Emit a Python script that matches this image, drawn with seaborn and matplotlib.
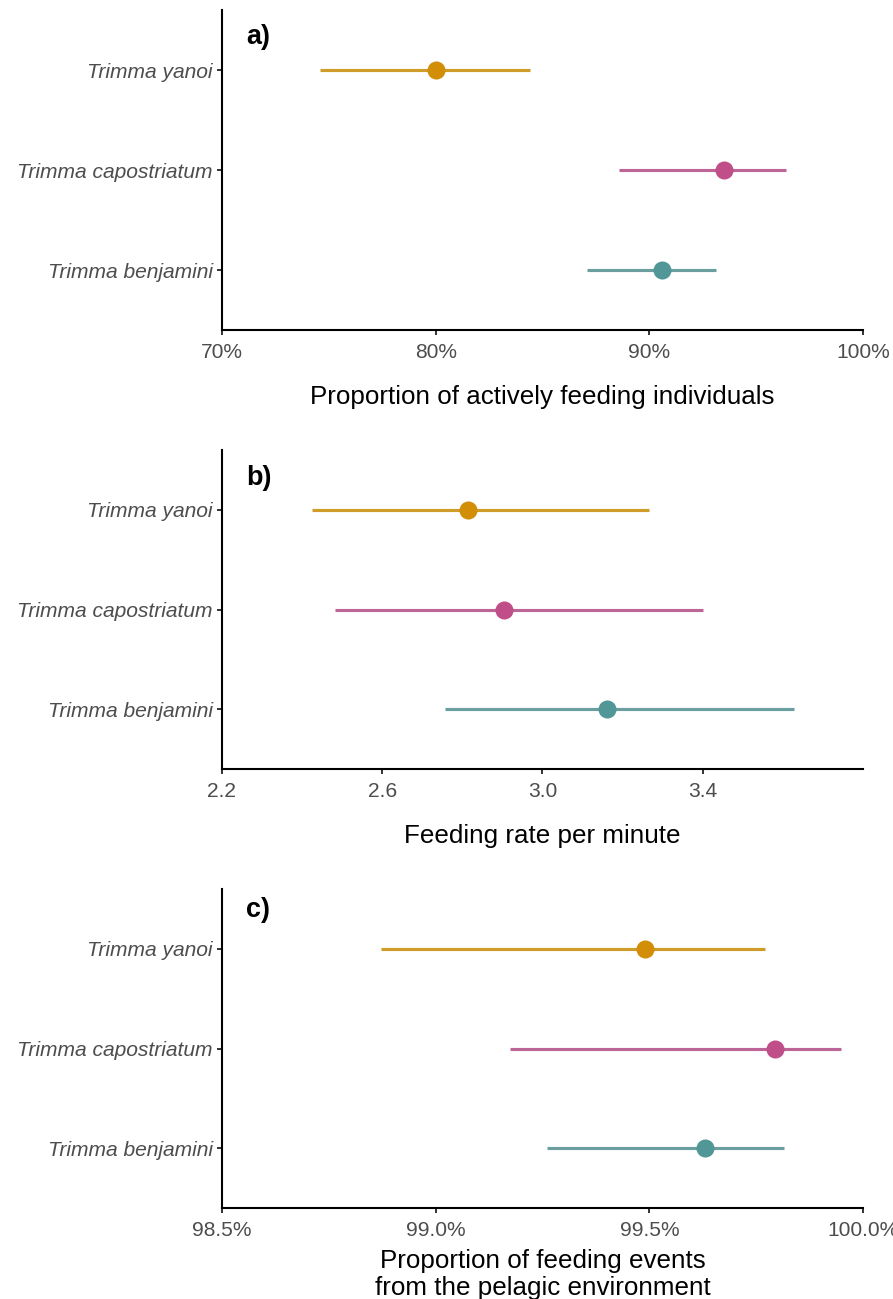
import numpy as np
import pandas as pd
import matplotlib
matplotlib.use("Agg")
import matplotlib.pyplot as plt
import seaborn as sns

# Species shown on each panel, top to bottom
species = ["Trimma yanoi", "Trimma capostriatum", "Trimma benjamini"]
point_colors = ["#D18E06", "#BF4E89", "#529797"]
line_colors = ["#CF9C2A", "#BC6596", "#6A9E9F"]

# a) proportion of actively feeding individuals (%)
feed_prop_mean = [80.0, 93.5, 90.6]
feed_prop_low = [74.6, 88.6, 87.1]
feed_prop_high = [84.4, 96.4, 93.1]

# b) feeding rate per minute
rate_mean = [2.814, 2.904, 3.162]
rate_low = [2.425, 2.483, 2.756]
rate_high = [3.267, 3.401, 3.629]

# c) proportion of feeding events from the pelagic environment (%)
pelagic_mean = [99.49, 99.794, 99.630]
pelagic_low = [98.871, 99.175, 99.261]
pelagic_high = [99.771, 99.948, 99.815]

a_ticks = [70, 80, 90, 100]
a_ticklabels = ["70%", "80%", "90%", "100%"]
b_ticks = [2.2, 2.6, 3.0, 3.4]
b_ticklabels = ["2.2", "2.6", "3.0", "3.4"]
c_ticks = [98.5, 99.0, 99.5, 100.0]
c_ticklabels = ["98.5%", "99.0%", "99.5%", "100.0%"]

sns.set_theme(style="ticks")
plt.rcParams["font.family"] = ["Liberation Sans", "DejaVu Sans"]

W, H = 893, 1299
fig = plt.figure(figsize=(W / 100, H / 100), dpi=100)

PX = 72 / 100  # points per pixel
tick_fs = 21 * PX
title_fs = 26 * PX


def make_axes(top, bottom, left=222, right=863):
    return fig.add_axes([left / W, 1 - bottom / H, (right - left) / W, (bottom - top) / H])


panels = [
    dict(top=10, bottom=330, mean=feed_prop_mean, low=feed_prop_low, high=feed_prop_high,
         xlim=(70, 100), ticks=a_ticks, labels=a_ticklabels,
         xlabel="Proportion of actively feeding individuals", pad=16, tag="a)", tag_y=37),
    dict(top=450, bottom=769, mean=rate_mean, low=rate_low, high=rate_high,
         xlim=(2.2, 3.8), ticks=b_ticks, labels=b_ticklabels,
         xlabel="Feeding rate per minute", pad=16, tag="b)", tag_y=478),
    dict(top=889, bottom=1208, mean=pelagic_mean, low=pelagic_low, high=pelagic_high,
         xlim=(98.5, 100.0), ticks=c_ticks, labels=c_ticklabels,
         xlabel="Proportion of feeding events\nfrom the pelagic environment", pad=6,
         tag="c)", tag_y=910),
]

for p in panels:
    ax = make_axes(p["top"], p["bottom"])
    df = pd.DataFrame({"species": species, "mean": p["mean"],
                       "low": p["low"], "high": p["high"]})
    # interval lines
    ax.hlines(y=np.arange(len(species)), xmin=df["low"], xmax=df["high"],
              colors=line_colors, linewidth=2.25, zorder=2)
    # point estimates
    sns.stripplot(data=df, x="mean", y="species", hue="species", order=species,
                  hue_order=species, palette=point_colors, jitter=False, size=13,
                  linewidth=0, legend=False, ax=ax, zorder=3)
    ax.set_xlim(*p["xlim"])
    ax.set_ylim(2.6, -0.6)
    ax.set_xticks(p["ticks"])
    ax.set_xticklabels(p["labels"])
    ax.set_ylabel("")
    ax.set_xlabel(p["xlabel"], fontsize=title_fs, color="black", labelpad=p["pad"],
                  linespacing=1.15)
    for lab in ax.get_yticklabels():
        lab.set_fontstyle("italic")
    ax.tick_params(axis="both", labelsize=tick_fs, labelcolor="#4D4D4D", color="#333333",
                   length=5 * PX, width=1.4)
    ax.tick_params(axis="x", pad=6)
    ax.tick_params(axis="y", pad=3)
    for side in ["top", "right"]:
        ax.spines[side].set_visible(False)
    for side in ["left", "bottom"]:
        ax.spines[side].set_color("black")
        ax.spines[side].set_linewidth(1.5)
    ax.set_facecolor("white")
    fig.text(246 / W, 1 - p["tag_y"] / H, p["tag"], fontsize=27 * PX,
             fontweight="bold", ha="left", va="center", color="black")

fig.savefig("out.png", dpi=100, facecolor="white")
